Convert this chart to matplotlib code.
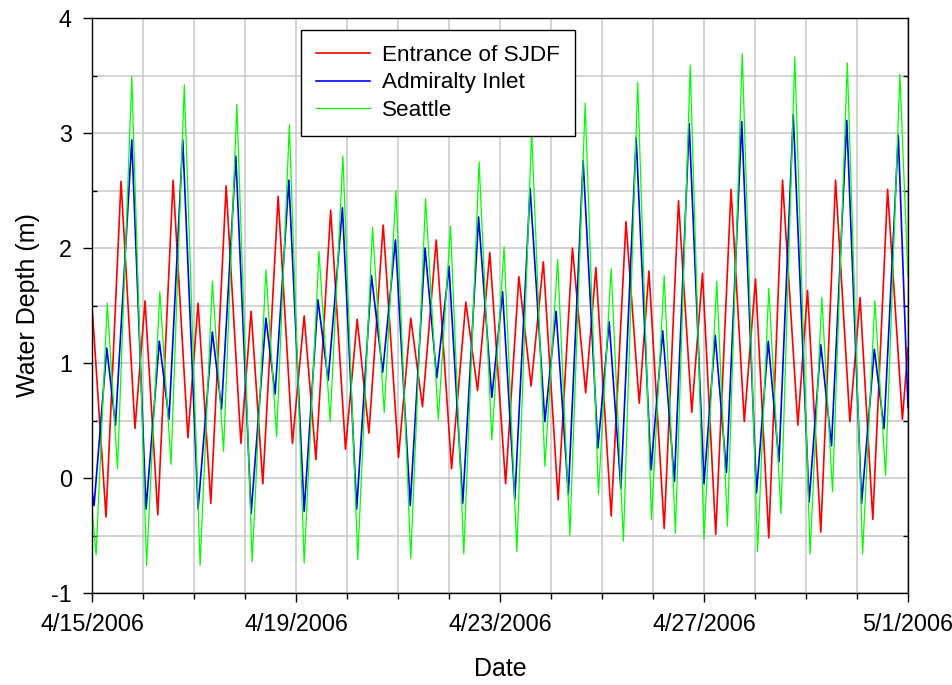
import matplotlib
matplotlib.use("Agg")
import matplotlib.pyplot as plt
from matplotlib.ticker import MultipleLocator

sjdfDays = [0, 0.275, 0.569, 0.843, 1.04, 1.29, 1.59, 1.88, 2.08, 2.33,
            2.63, 2.92, 3.12, 3.35, 3.65, 3.93, 4.16, 4.39, 4.68, 4.97,
            5.20, 5.43, 5.71, 6.01, 6.25, 6.48, 6.75, 7.05, 7.33, 7.56,
            7.80, 8.11, 8.37, 8.61, 8.85, 9.14, 9.42, 9.68, 9.88, 10.18,
            10.47, 10.73, 10.92, 11.22, 11.50, 11.76, 11.97, 12.23, 12.53, 12.79,
            13.01, 13.27, 13.54, 13.84, 14.03, 14.29, 14.58, 14.86, 15.06, 15.31,
            15.60, 15.89, 16.0]
sjdfDepth = [1.50, -0.34, 2.58, 0.43, 1.54, -0.32, 2.59, 0.35, 1.52, -0.22,
             2.54, 0.30, 1.45, -0.05, 2.45, 0.30, 1.41, 0.16, 2.33, 0.25,
             1.38, 0.39, 2.20, 0.18, 1.39, 0.62, 2.07, 0.08, 1.53, 0.76,
             1.96, -0.05, 1.75, 0.80, 1.88, -0.19, 2.00, 0.74, 1.83, -0.33,
             2.23, 0.65, 1.80, -0.44, 2.41, 0.57, 1.78, -0.49, 2.51, 0.49,
             1.73, -0.52, 2.59, 0.46, 1.63, -0.47, 2.59, 0.49, 1.57, -0.36,
             2.51, 0.51, 1.13]

admiraltyDays = [0, 0.04, 0.29, 0.46, 0.78, 1.06, 1.32, 1.51, 1.78, 2.08,
                 2.36, 2.54, 2.82, 3.12, 3.41, 3.59, 3.86, 4.16, 4.43, 4.63,
                 4.91, 5.19, 5.48, 5.70, 5.95, 6.24, 6.53, 6.76, 7.00, 7.27,
                 7.58, 7.84, 8.05, 8.29, 8.59, 8.88, 9.10, 9.34, 9.63, 9.92,
                 10.14, 10.37, 10.67, 10.96, 11.19, 11.42, 11.71, 12.00, 12.22, 12.44,
                 12.74, 13.03, 13.26, 13.47, 13.75, 14.06, 14.29, 14.50, 14.80, 15.09,
                 15.34, 15.53, 15.81, 16.0]
admiraltyDepth = [-0.11, -0.24, 1.13, 0.46, 2.94, -0.27, 1.19, 0.51, 2.94, -0.27,
                  1.27, 0.60, 2.80, -0.31, 1.39, 0.73, 2.59, -0.29, 1.55, 0.85,
                  2.35, -0.27, 1.76, 0.92, 2.07, -0.24, 2.00, 0.87, 1.84, -0.22,
                  2.27, 0.70, 1.62, -0.19, 2.52, 0.49, 1.45, -0.14, 2.76, 0.26,
                  1.36, -0.09, 2.96, 0.07, 1.28, -0.03, 3.08, -0.05, 1.24, 0.05,
                  3.10, -0.13, 1.19, 0.14, 3.16, -0.21, 1.16, 0.28, 3.11, -0.22,
                  1.12, 0.43, 2.98, 0.61]

seattleDays = [0, 0.08, 0.30, 0.50, 0.78, 1.07, 1.33, 1.55, 1.81, 2.12,
               2.36, 2.58, 2.84, 3.14, 3.41, 3.62, 3.87, 4.16, 4.45, 4.67,
               4.92, 5.21, 5.50, 5.73, 5.96, 6.25, 6.54, 6.79, 7.03, 7.29,
               7.59, 7.84, 8.08, 8.33, 8.62, 8.88, 9.13, 9.37, 9.67, 9.93,
               10.18, 10.42, 10.70, 10.97, 11.22, 11.44, 11.73, 12.00, 12.25, 12.46,
               12.75, 13.05, 13.27, 13.51, 13.78, 14.08, 14.31, 14.52, 14.81, 15.11,
               15.35, 15.56, 15.84, 16.0]
seattleDepth = [-0.27, -0.67, 1.52, 0.08, 3.49, -0.76, 1.62, 0.12, 3.42, -0.76,
                1.71, 0.23, 3.25, -0.73, 1.81, 0.36, 3.07, -0.74, 1.97, 0.49,
                2.80, -0.71, 2.18, 0.57, 2.50, -0.70, 2.43, 0.51, 2.19, -0.66,
                2.75, 0.33, 2.01, -0.64, 3.02, 0.10, 1.90, -0.50, 3.26, -0.14,
                1.82, -0.55, 3.44, -0.36, 1.76, -0.48, 3.59, -0.53, 1.71, -0.42,
                3.69, -0.64, 1.65, -0.31, 3.66, -0.66, 1.57, -0.12, 3.61, -0.66,
                1.54, 0.02, 3.51, 1.75]

dateTicks = [0, 4, 8, 12, 16]
dateLabels = ["4/15/2006", "4/19/2006", "4/23/2006", "4/27/2006", "5/1/2006"]


def main():
    plt.rcParams["font.family"] = ["Liberation Sans", "DejaVu Sans"]
    plt.rcParams["axes.unicode_minus"] = False

    fig = plt.figure(figsize=(9.53, 6.85), dpi=100)
    ax = fig.add_axes([92 / 953, 1 - 593 / 685, 816 / 953, 575 / 685])

    ax.plot(sjdfDays, sjdfDepth, color="#ff0000", linewidth=1.2, label="Entrance of SJDF")
    ax.plot(admiraltyDays, admiraltyDepth, color="#0000ff", linewidth=1.2, label="Admiralty Inlet")
    ax.plot(seattleDays, seattleDepth, color="#00ff00", linewidth=0.9, label="Seattle")

    ax.set_xlim(0, 16)
    ax.set_ylim(-1, 4)

    ax.set_xticks(dateTicks)
    ax.set_xticklabels(dateLabels)
    ax.xaxis.set_minor_locator(MultipleLocator(1))
    ax.yaxis.set_major_locator(MultipleLocator(1))
    ax.yaxis.set_minor_locator(MultipleLocator(0.5))

    # Gitter bei jedem Tag und jedem halben Meter
    ax.grid(True, which="both", color="#c8c8c8", linewidth=1.1)
    ax.set_axisbelow(True)

    ax.tick_params(axis="both", which="major", direction="out", length=6.5, width=1.0,
                   labelsize=16.8, pad=8)
    ax.tick_params(axis="x", which="minor", direction="out", length=4, width=1.0)
    ax.tick_params(axis="y", which="minor", direction="in", length=3.6, width=1.0,
                   right=True)

    for spine in ax.spines.values():
        spine.set_linewidth(1.0)
        spine.set_color("black")

    ax.set_xlabel("Date", fontsize=18, labelpad=15)
    ax.set_ylabel("Water Depth (m)", fontsize=18, labelpad=8)

    legend = ax.legend(loc="upper left", bbox_to_anchor=((301 - 92) / 816, (593 - 30) / 575),
                       borderaxespad=0, fontsize=16.2, frameon=True, fancybox=False,
                       handlelength=2.4, handletextpad=0.57, labelspacing=0.3,
                       borderpad=0.65)
    legend.get_frame().set_edgecolor("black")
    legend.get_frame().set_linewidth(1.0)
    legend.get_frame().set_alpha(1)

    plt.savefig("out.png", dpi=100)


if __name__ == "__main__":
    main()
